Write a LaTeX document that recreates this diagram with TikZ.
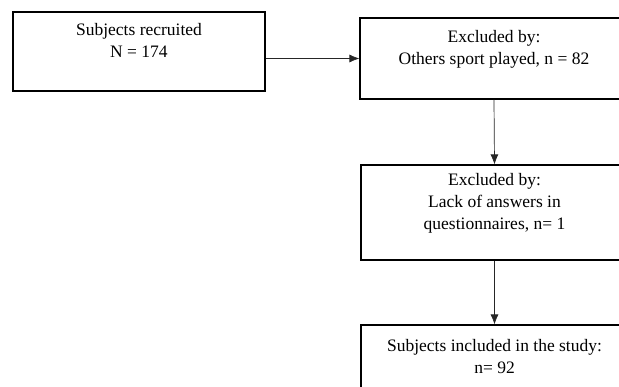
\documentclass[tikz,border=0pt]{standalone}
\usepackage{fontspec}
\setmainfont{Liberation Serif}
\usetikzlibrary{arrows.meta}

\begin{document}
\begin{tikzpicture}[x=1pt,y=-1pt,font=\fontsize{17.5}{22}\selectfont,
  box/.style={draw,line width=1.1pt,align=center,inner sep=0pt},
  flow/.style={black!85,line width=0.7pt,-{Latex[length=10pt,width=8pt]}}]
\useasboundingbox (0,0) rectangle (619,387);
\clip (0,0) rectangle (619,387);
\node[box,minimum width=252,minimum height=79] (recruited) at (139,51.5) {Subjects recruited\\N = 174\\~};
\node[box,minimum width=268,minimum height=81] (sport) at (494,58.5) {Excluded by:\\Others sport played, n = 82\\~};
\node[box,minimum width=267,minimum height=95] (answers) at (494.5,212.5) {Excluded by:\\Lack of answers in\\questionnaires, n= 1\\~};
\node[box,minimum width=267,minimum height=84] (included) at (494.5,367) {Subjects included in the study:\\n= 92\\~};
\draw[flow] (recruited.east |- sport.west) -- (sport.west);
\draw[flow] (sport.south) -- (answers.north);
\draw[flow] (answers.south) -- (included.north);
\end{tikzpicture}
\end{document}
